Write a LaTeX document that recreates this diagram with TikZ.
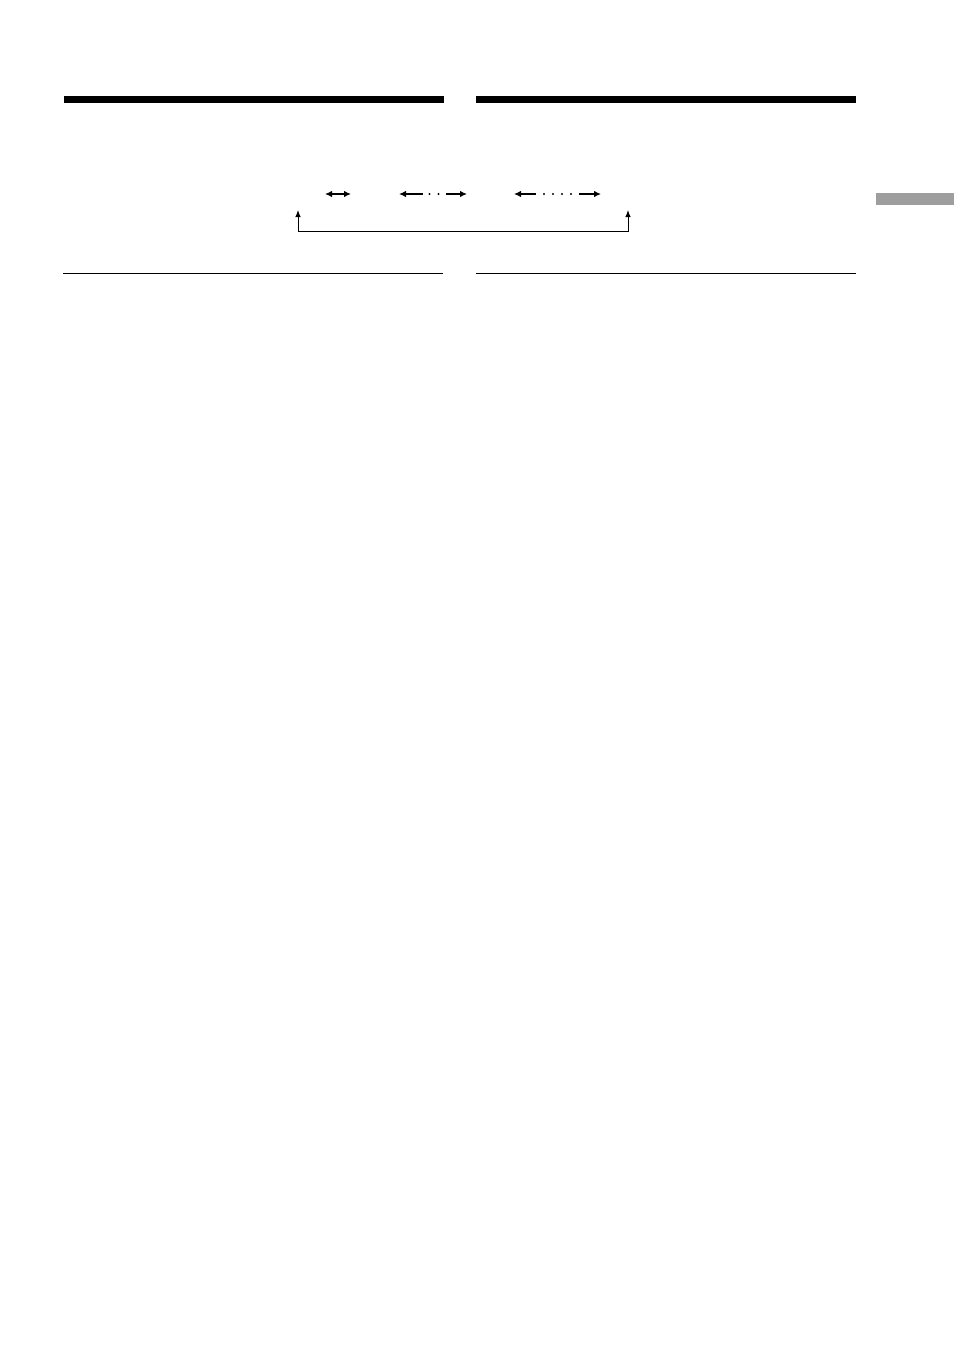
\documentclass[tikz,border=0pt]{standalone}
\usetikzlibrary{arrows.meta}
\begin{document}
\begin{tikzpicture}[x=1pt,y=-1pt,
  thickbar/.style={fill=black,draw=none},
  rule/.style={line width=1pt,draw=black},
  tip/.tip={Latex[length=7pt,width=6.5pt]},
  arr/.style={line width=1.3pt,-tip},
  darr/.style={line width=1.3pt,tip-tip},
  dot/.style={circle,fill=black,inner sep=0pt,minimum size=2.4pt},
  tab/.style={fill=black!38,draw=none}]
\useasboundingbox (0,0) rectangle (954,1351);
\fill[white] (0,0) rectangle (954,1351);
% heading bars
\path[thickbar] (64,96) rectangle (444,103);
\path[thickbar] (476,96) rectangle (856,103);
% side tab
\path[tab] (876,193) rectangle (954,204.5);
% thin rules
\draw[rule] (63,273) -- (443,273);
\draw[rule] (476,273) -- (856,273);
% arrows row
\coordinate (a1l) at (325,194); \coordinate (a1r) at (351,194);
\draw[darr] (a1l) -- (a1r);
\coordinate (a2l) at (399,194); \coordinate (a2lm) at (423,194);
\coordinate (a2rm) at (446,194); \coordinate (a2r) at (467,194);
\draw[arr] (a2lm) -- (a2l);
\draw[arr] (a2rm) -- (a2r);
\node[dot] (d21) at (429.5,194) {};
\node[dot] (d22) at (438.5,194) {};
\coordinate (a3l) at (514,194); \coordinate (a3lm) at (536,194);
\coordinate (a3rm) at (579,194); \coordinate (a3r) at (601,194);
\draw[arr] (a3lm) -- (a3l);
\draw[arr] (a3rm) -- (a3r);
\node[dot] (d31) at (544,194) {};
\node[dot] (d32) at (553,194) {};
\node[dot] (d33) at (562,194) {};
\node[dot] (d34) at (571,194) {};
% bracket
\coordinate (bl) at (298,210); \coordinate (br) at (628,210);
\draw[line width=1pt,{Latex[length=7pt,width=5.5pt]}-{Latex[length=7pt,width=5.5pt]}] (bl) -- (298,231.5) -- (628,231.5) -- (br);
\end{tikzpicture}
\end{document}
